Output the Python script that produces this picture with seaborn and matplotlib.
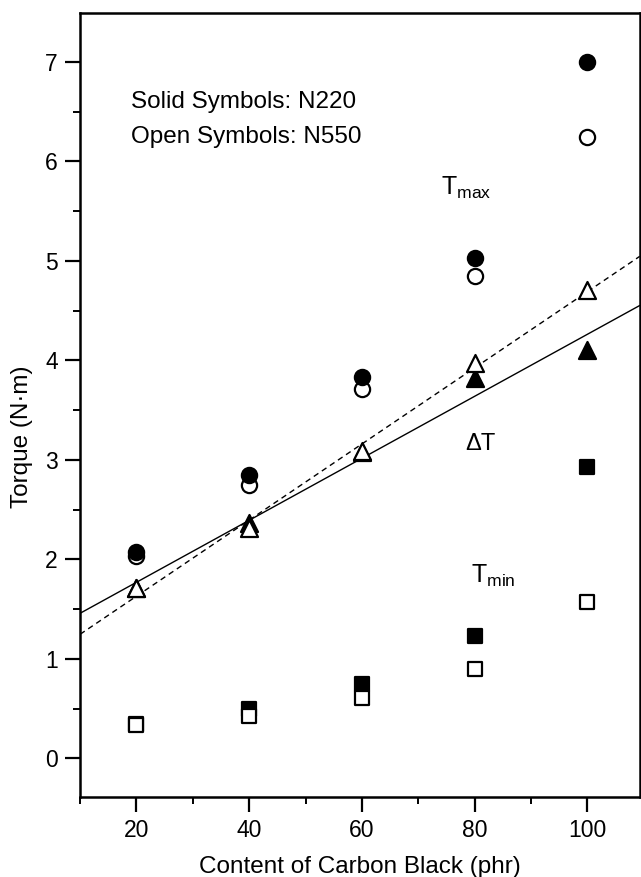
import numpy as np
import pandas as pd
import matplotlib
matplotlib.use("Agg")
import matplotlib.pyplot as plt
import seaborn as sns
from matplotlib.ticker import MultipleLocator

# Carbon black loading (phr)
content = [20, 40, 60, 80, 100]

# Torque values (N·m); N220 = solid symbols, N550 = open symbols
tmax_n220 = [2.07, 2.85, 3.83, 5.03, 7.00]
tmax_n550 = [2.03, 2.75, 3.71, 4.85, 6.25]
dt_n220 = [1.71, 2.37, 3.08, 3.82, 4.10]
dt_n550 = [1.71, 2.32, 3.09, 3.97, 4.71]
tmin_n220 = [0.35, 0.50, 0.75, 1.23, 2.93]
tmin_n550 = [0.34, 0.43, 0.61, 0.90, 1.57]

sns.set_style("ticks")
plt.rcParams["font.family"] = ["Liberation Sans", "DejaVu Sans"]
plt.rcParams["mathtext.fontset"] = "custom"
plt.rcParams["mathtext.rm"] = "Liberation Sans"
plt.rcParams["mathtext.it"] = "Liberation Sans"
plt.rcParams["text.color"] = "black"
plt.rcParams["axes.labelcolor"] = "black"
plt.rcParams["xtick.color"] = "black"
plt.rcParams["ytick.color"] = "black"

df = pd.DataFrame({
    "content": content,
    "tmax_n220": tmax_n220, "tmax_n550": tmax_n550,
    "dt_n220": dt_n220, "dt_n550": dt_n550,
    "tmin_n220": tmin_n220, "tmin_n550": tmin_n550,
})

fig = plt.figure(figsize=(6.41, 8.77), dpi=100)
ax = fig.add_axes([0.125, 0.091, 0.873, 0.894])
ax.set_xlim(10, 109.3)
ax.set_ylim(-0.39, 7.49)

# Linear fits of delta-T for both grades, spanning the full x range
sns.regplot(data=df, x="content", y="dt_n220", ax=ax, scatter=False, ci=None,
            truncate=False, line_kws=dict(color="black", lw=1.0, ls="-"))
sns.regplot(data=df, x="content", y="dt_n550", ax=ax, scatter=False, ci=None,
            truncate=False, line_kws=dict(color="black", lw=1.0, ls=(0, (4, 3))))

series = [
    ("tmax_n550", "o", "white", 120),
    ("tmax_n220", "o", "black", 120),
    ("tmin_n220", "s", "black", 90),
    ("tmin_n550", "s", "white", 90),
    ("dt_n220", "^", "black", 150),
    ("dt_n550", "^", "white", 150),
]
for col, mk, fc, size in series:
    sns.scatterplot(data=df, x="content", y=col, ax=ax, marker=mk, s=size,
                    color=fc, edgecolor="black", linewidth=1.6, zorder=3,
                    legend=False)

ax.set_xlim(10, 109.3)
ax.set_ylim(-0.39, 7.49)

for side in ["left", "bottom", "top", "right"]:
    ax.spines[side].set_linewidth(1.8)
    ax.spines[side].set_color("black")

ax.set_xticks(content)
ax.xaxis.set_minor_locator(MultipleLocator(10))
ax.yaxis.set_major_locator(MultipleLocator(1))
ax.yaxis.set_minor_locator(MultipleLocator(0.5))
ax.tick_params(which="major", direction="out", length=11, width=1.6,
               labelsize=16.5, pad=5, colors="black")
ax.tick_params(which="minor", direction="out", length=5, width=1.4)
ax.tick_params(top=False, right=False, which="both")

ax.set_xlabel("Content of Carbon Black (phr)", fontsize=17.5, labelpad=10)
ax.set_ylabel("Torque (N·m)", fontsize=17.5)
ax.yaxis.set_label_coords(-0.085, 0.46)

ax.text(19.1, 6.60, "Solid Symbols: N220", fontsize=17.5, va="center", ha="left")
ax.text(19.1, 6.25, "Open Symbols: N550", fontsize=17.5, va="center", ha="left")
ax.text(74.1, 5.66, r"T$_{\mathrm{max}}$", fontsize=18, va="baseline", ha="left")
ax.text(78.4, 3.10, "ΔT", fontsize=17, va="baseline", ha="left")
ax.text(79.3, 1.76, r"T$_{\mathrm{min}}$", fontsize=18, va="baseline", ha="left")

fig.savefig("out.png", dpi=100, facecolor="white")
